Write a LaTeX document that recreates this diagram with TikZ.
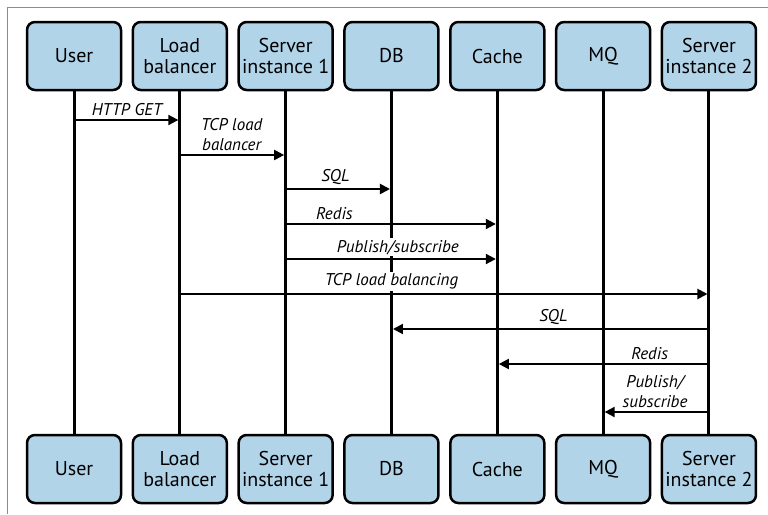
\documentclass[tikz,border=0pt]{standalone}
\usepackage{fontspec}
\setmainfont{PT Sans}
\usetikzlibrary{arrows.meta}
\definecolor{boxblue}{RGB}{178,212,233}
\definecolor{framegray}{RGB}{140,140,140}
\begin{document}
\begin{tikzpicture}[x=1pt,y=-1pt,
  actor/.style={draw=black, line width=2.5pt, rounded corners=8pt, fill=boxblue,
    minimum width=94pt, minimum height=68pt, align=center, inner sep=0pt,
    font=\fontsize{20}{21.5}\selectfont},
  life/.style={line width=3pt},
  msg/.style={line width=2pt, -{Triangle[length=10pt,width=10pt]}, shorten >=1.5pt},
  lbl/.style={font=\fontsize{17}{20}\selectfont\itshape, fill=white, inner sep=1.5pt,
    yshift=2pt, align=center}]
\useasboundingbox (0,0) rectangle (768,514);
\draw[framegray, line width=1pt] (768,7) -- (7,7) -- (7,514);

% participants, top and bottom rows
\foreach \n/\t [count=\i from 0] in {u/User, lb/Load\\balancer, sa/Server\\instance 1,
    db/DB, ca/Cache, mq/MQ, sb/Server\\instance 2} {
  \node[actor] (\n T) at ({74+105.83*\i},56) {\t};
  \node[actor] (\n B) at ({74+105.83*\i},469) {\t};
}

% lifelines
\foreach \n in {u,lb,sa,db,ca,mq,sb}
  \draw[life] (\n T) -- (\n B);

% message rows
\foreach \k/\y in {1/120,2/155,3/189,4/224,5/259,6/294,7/329,8/364,9/412}
  \coordinate (r\k) at (0,\y);

\draw[msg] (uT |- r1) -- (lbT |- r1) node[lbl, pos=0.5, above] {HTTP GET};
\draw[msg] (lbT |- r2) -- (saT |- r2) node[lbl, pos=0.49, above] {TCP load\\balancer};
\draw[msg] (saT |- r3) -- (dbT |- r3) node[lbl, pos=0.47, above] {SQL};
\draw[msg] (saT |- r4) -- (caT |- r4) node[lbl, pos=0.23, above] {Redis};
\draw[msg] (saT |- r5) -- (caT |- r5) node[lbl, pos=0.53, above] {Publish/subscribe};
\draw[msg] (lbT |- r6) -- (sbT |- r6) node[lbl, pos=0.40, above] {TCP load balancing};
\draw[msg] (sbT |- r7) -- (dbT |- r7) node[lbl, pos=0.49, above] {SQL};
\draw[msg] (sbT |- r8) -- (caT |- r8) node[lbl, pos=0.28, above] {Redis};
\draw[msg] (sbT |- r9) -- (mqT |- r9) node[lbl, pos=0.51, above] {Publish/\\subscribe};
\end{tikzpicture}
\end{document}
